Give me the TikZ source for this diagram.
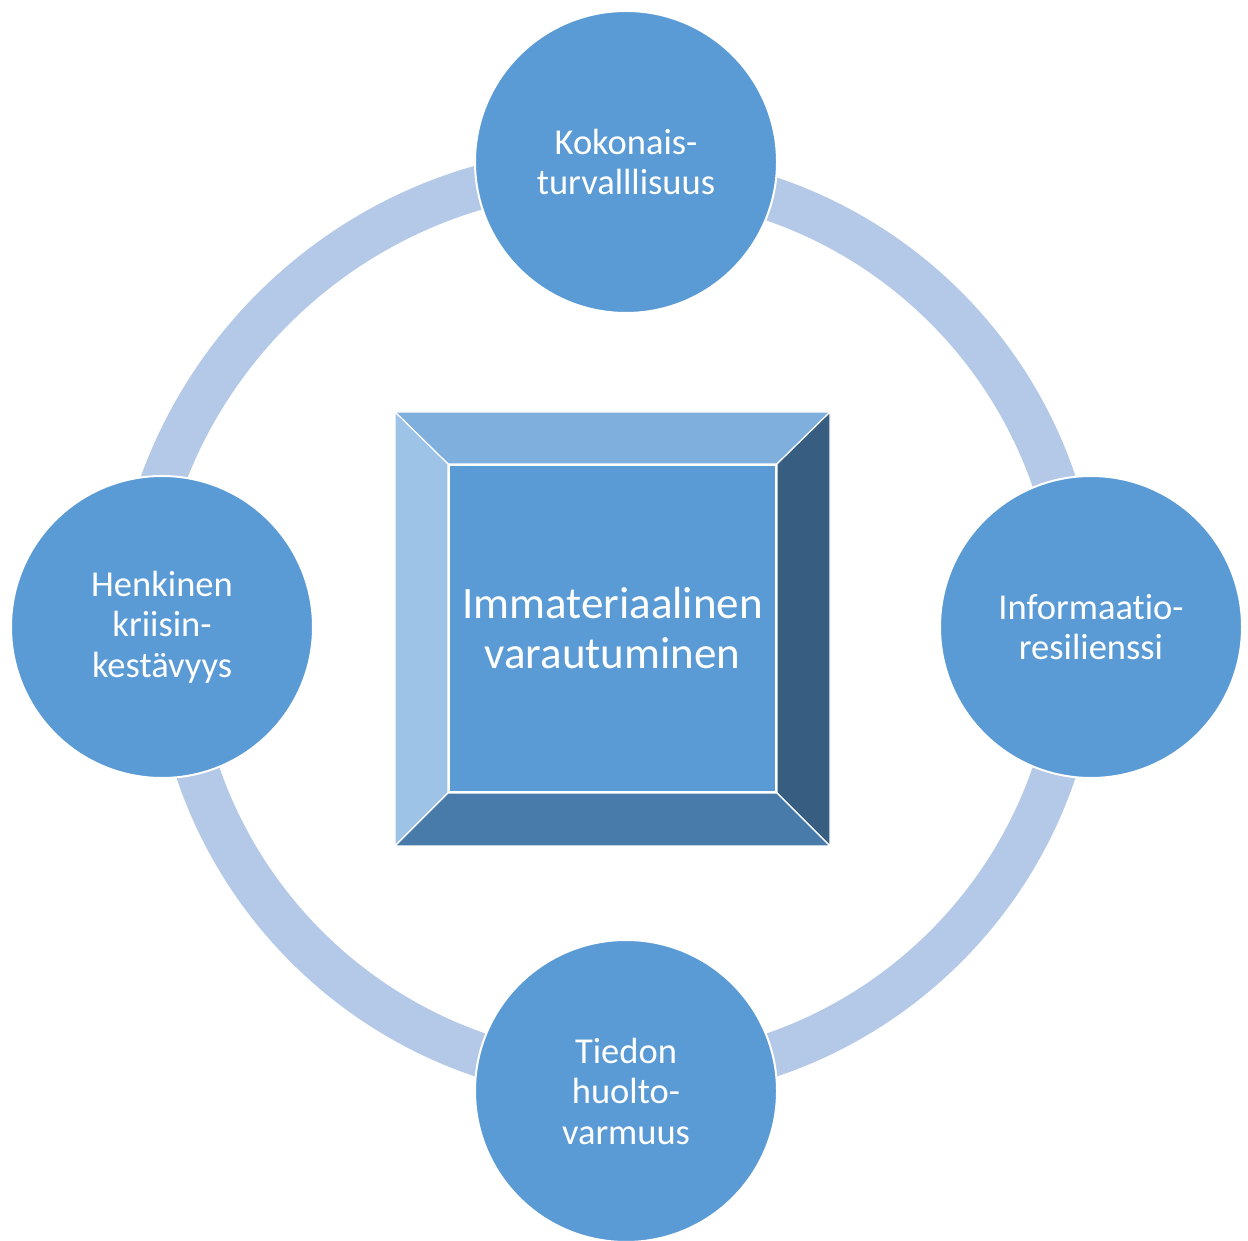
\documentclass[tikz,border=0pt]{standalone}
\usepackage{fontspec}
\setmainfont{Carlito}[Ligatures=NoCommon]
\usetikzlibrary{positioning}
\definecolor{nodeblue}{HTML}{5B9BD5}
\definecolor{ringblue}{HTML}{B4C8E7}
\definecolor{bevtop}{HTML}{7EAFDD}
\definecolor{bevleft}{HTML}{9DC3E6}
\definecolor{bevright}{HTML}{375E80}
\definecolor{bevbottom}{HTML}{487BA9}

\begin{document}
\begin{tikzpicture}[
    x=1pt, y=1pt,
    topic/.style={circle, draw=white, line width=2pt, fill=nodeblue, minimum size=302pt, inner sep=0pt, text=white, align=center, font=\fontsize{36.5}{40.5}\selectfont},
    face/.style={rectangle, draw=white, line width=2pt, fill=nodeblue, minimum width=327pt, minimum height=327pt, text=white, align=center, font=\fontsize{45}{50}\selectfont},
    ring/.style={draw=ringblue, line width=44pt},
    bevel/.style={draw=white, line width=1.2pt, line join=round}
]
    \useasboundingbox (0,0) rectangle (1248,1240);

    % Ring
    \coordinate (hub) at (626,613);
    \coordinate (hubtl) at (611,593);
    \draw[ring] (hub) ++(0:452) arc[start angle=0, end angle=90, radius=452];
    \draw[ring] (hubtl) ++(90:478) arc[start angle=90, end angle=180, radius=478];
    \draw[ring] (hub) ++(180:452) arc[start angle=180, end angle=270, radius=452];
    \draw[ring] (hub) ++(270:452) arc[start angle=270, end angle=360, radius=452];

    % Nodes
    \node[topic] (safety) at (626,1078) {Kokonais-\\turvalllisuus};
    \node[topic] (resil) at (1091,613) {Informaatio-\\resilienssi};
    \node[topic] (supply) at (626,149) {Tiedon\\huolto-\\varmuus};
    \node[topic] (mental) at (162,613) {Henkinen\\kriisin-\\kestävyys};

    % Bevelled square
    \filldraw[bevel, fill=bevtop] (395,828) -- (830,828) -- (777,776) -- (448,776) -- cycle;
    \filldraw[bevel, fill=bevleft] (395,828) -- (448,776) -- (448,447) -- (395,394) -- cycle;
    \filldraw[bevel, fill=bevright] (830,828) -- (830,394) -- (777,447) -- (777,776) -- cycle;
    \filldraw[bevel, fill=bevbottom] (395,394) -- (830,394) -- (777,447) -- (448,447) -- cycle;
    \node[face] (core) at (612.5,611.5) {Immateriaalinen\\varautuminen};
\end{tikzpicture}
\end{document}
